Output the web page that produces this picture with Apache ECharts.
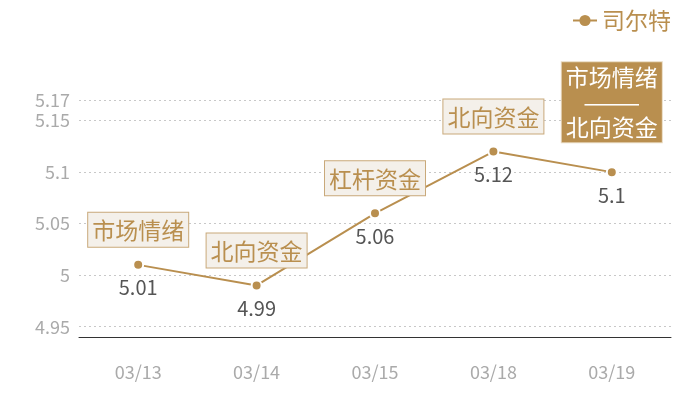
<!DOCTYPE html>
<html>
<head>
<meta charset="utf-8">
<script src="https://cdn.jsdelivr.net/npm/echarts@6/dist/echarts.min.js"></script>
<style>html,body{margin:0;padding:0;background:#fff}#c{width:700px;height:400px}</style>
</head>
<body>
<div id="c"></div>
<script>
var categories = ['03/13', '03/14', '03/15', '03/18', '03/19'];
var seriesName = '司尔特';
var values = [5.01, 4.99, 5.06, 5.12, 5.1];
var eventLabels = ['市场情绪', '北向资金', '杠杆资金', '北向资金', '市场情绪\n———\n北向资金'];
var yTicks = [4.95, 5, 5.05, 5.1, 5.15, 5.17];
var highlightIndex = 4;

var gold = '#b98f4f';
var font = '"Noto Sans CJK SC", "Noto Sans", sans-serif';

var markData = categories.map(function (c, i) {
  var hl = i === highlightIndex;
  return {
    coord: [c, values[i]],
    symbol: 'circle',
    symbolSize: 0,
    label: {
      show: true,
      position: 'top',
      distance: hl ? 30 : 18,
      formatter: eventLabels[i],
      color: hl ? '#fff' : gold,
      fontSize: 23,
      lineHeight: 25,
      fontFamily: font,
      backgroundColor: hl ? gold : '#f4f0ea',
      borderColor: hl ? '#e8d9bf' : '#c9a97a',
      borderWidth: 1,
      padding: hl ? [3, 4, 2, 4] : [5, 4, 4, 4],
      align: 'center'
    }
  };
});

var chart = echarts.init(document.getElementById('c'));
chart.setOption({
  animation: false,
  backgroundColor: '#fff',
  legend: {
    right: 24,
    top: 4,
    itemWidth: 24,
    itemHeight: 14,
    itemGap: 6,
    itemStyle: { borderWidth: 0 },
    textStyle: { color: gold, fontSize: 23, fontFamily: font },
    data: [seriesName]
  },
  grid: { left: 79, right: 29, top: 100, bottom: 63 },
  xAxis: {
    type: 'category',
    data: categories,
    axisLine: { lineStyle: { color: '#333', width: 1 } },
    axisTick: { show: false },
    axisLabel: { color: '#aaa', fontSize: 18, margin: 26, fontFamily: font }
  },
  yAxis: {
    type: 'value',
    min: 4.94,
    max: 5.17,
    axisLine: { show: false },
    axisTick: { show: false, customValues: yTicks },
    axisLabel: { color: '#aaa', fontSize: 18, margin: 9, fontFamily: font, customValues: yTicks },
    splitLine: { lineStyle: { color: '#c8c8c8', type: [2, 3] } }
  },
  series: [{
    name: seriesName,
    type: 'line',
    data: values,
    symbol: 'circle',
    symbolSize: 10,
    itemStyle: { color: gold, borderColor: '#fff', borderWidth: 2 },
    lineStyle: { color: gold, width: 2 },
    label: {
      show: true,
      position: 'bottom',
      distance: 7,
      color: '#555',
      fontSize: 20,
      fontFamily: font
    },
    markPoint: {
      data: markData
    }
  }]
});
</script>
</body>
</html>
